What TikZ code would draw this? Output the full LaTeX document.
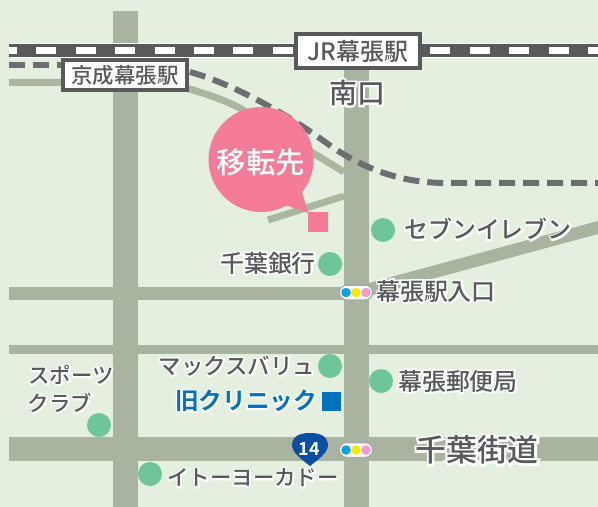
\documentclass[tikz,border=0pt]{standalone}
\usepackage{fontspec}
\setmainfont{Noto Sans CJK JP Medium}
\newfontfamily\boldjp{Noto Sans CJK JP Bold}
\newfontfamily\halofont[FakeBold=14]{Noto Sans CJK JP Medium}
\definecolor{bg}{HTML}{E4EFE0}
\definecolor{road}{HTML}{A8B3A0}
\definecolor{thinroad}{HTML}{AAB7A0}
\definecolor{rail}{HTML}{58595B}
\definecolor{dashc}{HTML}{6D6E71}
\definecolor{pinkc}{HTML}{F47C98}
\definecolor{dotg}{HTML}{6FC59A}
\definecolor{blu}{HTML}{0071BC}
\definecolor{shield}{HTML}{0B4EA2}
\definecolor{txt}{HTML}{58595B}
\newcommand\halo[1]{\rlap{\halofont\color{white}#1}#1}
\tikzset{
  x=1bp,y=-1bp,
  stn/.style={draw=rail,line width=4bp,fill=white,inner sep=0pt,text=txt,anchor=center},
  lab/.style={inner sep=0pt,text=txt,anchor=center},
  spot/.style={circle,fill=dotg,minimum size=24bp,inner sep=0pt},
  sig/.style={draw=gray!70,line width=1bp,fill=white,rounded corners=7bp,minimum width=33bp,minimum height=14.5bp,inner sep=0pt},
  lamp/.style={circle,minimum size=9.5bp,inner sep=0pt},
  keisei/.style={draw=dashc,line width=6bp,dash pattern=on 16bp off 8bp},
}
\newcommand\signal[3]{%
  \node[sig] (#1) at (#2,#3) {};
  \node[lamp,fill=cyan!90!blue] (#1c) at (#2-10,#3) {};
  \node[lamp,fill=yellow!90!orange] (#1y) at (#2,#3) {};
  \node[lamp,fill=magenta!40!white] (#1p) at (#2+10,#3) {};
}
\begin{document}
\begin{tikzpicture}
\useasboundingbox (0,0) rectangle (598,507);
\fill[bg] (0,0) rectangle (598,507);
% roads
\fill[road] (113,11) rectangle (138,507);
\fill[road] (344,60) rectangle (369,507);
\fill[road] (9,287) rectangle (344,300);
\fill[road] (9,345) rectangle (598,354);
\fill[road] (9,437) rectangle (598,461);
\fill[road] (369,283) -- (598,221) -- (598,234) -- (369,296) -- cycle;
\draw[thinroad,line width=7bp] (9,82.5) -- (100,82.5) .. controls (130,82.5) and (165,82) .. (189,89) .. controls (215,96) and (235,105) .. (243,110) -- (344,172);
\draw[thinroad,line width=7bp] (268,220) -- (344,196);
% rails
\draw[white,line width=15bp] (9,50.5) -- (598,50.5);
\draw[rail,line width=12.5bp] (9,50.5) -- (598,50.5);
\draw[white,line width=7.5bp,dash pattern=on 20bp off 19.4bp,dash phase=12bp] (9,50.5) -- (598,50.5);
\draw[keisei] (9,65) -- (70,65);
\draw[keisei] (190,72) .. controls (230,83) and (285,112) .. (332,147) .. controls (370,172) and (405,183) .. (447,183) -- (598,183);
% target
\fill[pinkc] (261,159.5) circle (52.5);
\fill[pinkc] (285,190) -- (302,192) -- (308,213) -- (285,205) -- cycle;
\node[fill=pinkc,minimum size=20bp,inner sep=0pt] (target) at (318,222) {};
\node[inner sep=0pt,text=white,font=\fontsize{29.5}{29.5}\selectfont] (moved) at (261,162) {移転先};
% stations
\node[stn,minimum width=124bp,minimum height=34bp,font=\fontsize{24}{24}\selectfont] (jr) at (358,51) {JR幕張駅};
\node[stn,minimum width=124bp,minimum height=30bp,font=\fontsize{21.5}{21.5}\selectfont] (ks) at (125,75) {京成幕張駅};
% labels
\node[lab,font=\fontsize{28}{28}\selectfont] (south) at (357,93) {\halo{南口}};
\node[lab,font=\fontsize{24}{24}\selectfont] (seven) at (488,229) {\halo{セブンイレブン}};
\node[lab,font=\fontsize{24}{24}\selectfont] (chiba) at (268,263) {\halo{千葉銀行}};
\node[lab,font=\fontsize{24}{24}\selectfont] (entr) at (436,291) {\halo{幕張駅入口}};
\node[lab,font=\fontsize{24}{24}\selectfont] (post) at (458,381) {\halo{幕張郵便局}};
\node[lab,font=\fontsize{22.5}{22.5}\selectfont] (maxv) at (237,366) {\halo{マックスバリュ}};
\node[lab,text=blu,font=\boldjp\fontsize{23.7}{23.7}\selectfont] (old) at (246,401) {\halo{旧クリニック}};
\node[lab,font=\fontsize{21.5}{21.5}\selectfont] (sp1) at (71,375) {\halo{スポーツ}};
\node[lab,font=\fontsize{21.5}{21.5}\selectfont] (sp2) at (60,403) {\halo{クラブ}};
\node[lab,font=\fontsize{31}{31}\selectfont] (kaido) at (477,450) {\halo{千葉街道}};
\node[lab,font=\fontsize{21.5}{21.5}\selectfont] (ito) at (253,478) {\halo{イトーヨーカドー}};
% spots
\node[spot] (s1) at (383,230) {};
\node[spot] (s2) at (330,264) {};
\node[spot] (s3) at (330,366) {};
\node[spot] (s4) at (381,381) {};
\node[spot] (s5) at (99,425) {};
\node[spot] (s6) at (150,474) {};
\node[fill=blu,minimum size=19bp,inner sep=0pt] (oldsq) at (331,401) {};
\signal{sa}{356}{292.5}
\signal{sb}{356}{450}
% shield
\fill[shield] (292,446) .. controls (292,437) and (298,433) .. (310,433) .. controls (322,433) and (328,437) .. (328,446) .. controls (327,454) and (316,461) .. (310,466) .. controls (304,461) and (293,454) .. (292,446) -- cycle;
\node[inner sep=0pt,text=white,font=\boldjp\fontsize{18}{18}\selectfont] (r14) at (309.5,449) {14};
\end{tikzpicture}
\end{document}
